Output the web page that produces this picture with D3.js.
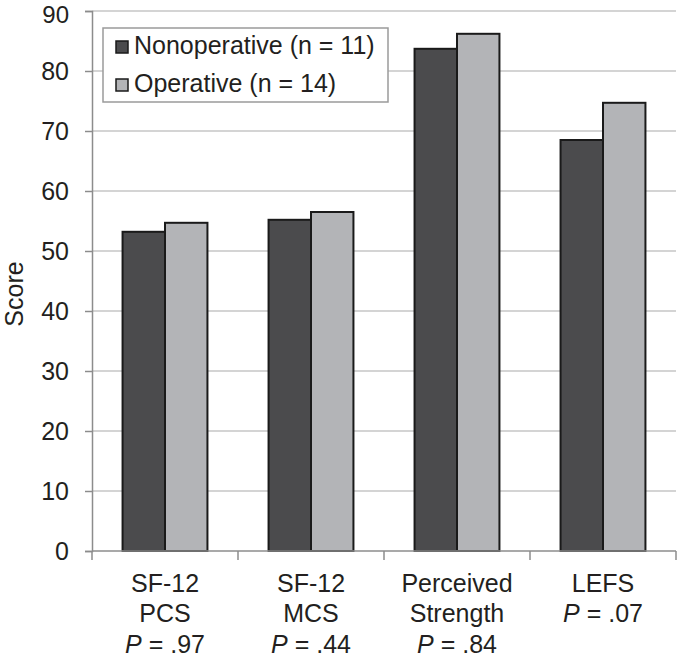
<!DOCTYPE html>
<html><head><meta charset="utf-8">
<script src="https://cdn.jsdelivr.net/npm/d3@7"></script>
<style>body{margin:0;background:#fff}svg{display:block}text{font-family:"Liberation Sans",Arial,sans-serif;fill:#231f20}</style>
</head><body><svg id="c" width="678" height="659"></svg>
<script>
const categories = [["SF-12","PCS"],["SF-12","MCS"],["Perceived","Strength"],["LEFS"]];
const pValues = [".97",".44",".84",".07"];
const seriesNames = ["Nonoperative (n = 11)","Operative (n = 14)"];
const nonoperative = [53.2, 55.2, 83.7, 68.5];
const operative = [54.7, 56.5, 86.2, 74.7];
const yTicks = [0,10,20,30,40,50,60,70,80,90];
const colors = ["#4b4b4d","#b3b4b7"];

const FS = 25;
const svg = d3.select("#c");
const m = {l:92, r:2, t:11, b:108};
const W = 678, H = 659;
const x = d3.scaleBand().domain(d3.range(categories.length)).range([m.l, W-m.r]).paddingInner(0).paddingOuter(0);
const x1 = d3.scaleBand().domain([0,1]).range([0, x.bandwidth()]).paddingInner(0).paddingOuter(0.72);
const y = d3.scaleLinear().domain([0,90]).range([H-m.b, m.t]);

// grid
svg.append("g").selectAll("line").data(yTicks.filter(d=>d>0)).join("line")
  .attr("x1", m.l).attr("x2", W-m.r).attr("y1", d=>y(d)).attr("y2", d=>y(d))
  .attr("stroke","#c6c6c6").attr("stroke-width",1.5);

// y axis
const ya = svg.append("g").attr("transform",`translate(${m.l},0)`)
  .call(d3.axisLeft(y).tickValues(yTicks).tickSize(7).tickPadding(16));
ya.attr("font-size",FS).attr("font-family",null);
ya.select(".domain").attr("stroke","#8c8c8c").attr("stroke-width",1.5);
ya.selectAll(".tick line").attr("stroke","#8c8c8c").attr("stroke-width",1.5);
ya.selectAll(".tick text").attr("font-size",FS).attr("fill","#231f20");
// keep the top label inside the picture
ya.selectAll(".tick text").filter(d => d === d3.max(yTicks)).attr("font-size",24).attr("dy","0.46em");

// bars
const series = [nonoperative, operative];
series.forEach((vals, s) => {
  svg.append("g").selectAll("rect").data(vals).join("rect")
    .attr("x", (d,i)=> x(i) + x1(s))
    .attr("width", x1.bandwidth())
    .attr("y", d=>y(d))
    .attr("height", d=> y(0)-y(d))
    .attr("fill", colors[s]).attr("stroke","#1a1a1a").attr("stroke-width",2);
});

// x axis
const xa = svg.append("g");
xa.append("line").attr("x1",m.l).attr("x2",W-m.r).attr("y1",y(0)).attr("y2",y(0)).attr("stroke","#8c8c8c").attr("stroke-width",1.5);
const bounds = d3.range(categories.length+1).map(i => i<categories.length ? x(i) : x(i-1)+x.bandwidth());
xa.selectAll("line.t").data(bounds).join("line").attr("class","t")
  .attr("x1",d=>d).attr("x2",d=>d).attr("y1",y(0)).attr("y2",y(0)+9).attr("stroke","#8c8c8c").attr("stroke-width",1.5);

categories.forEach((lines, i) => {
  const cx = x(i) + x.bandwidth()/2;
  const t = svg.append("text").attr("text-anchor","middle").attr("font-size",FS);
  lines.forEach((ln, j) => {
    t.append("tspan").attr("x",cx).attr("y", 592 + j*30).text(ln);
  });
  const py = 592 + lines.length*30 + (lines.length>1 ? 1 : 0);
  const p = svg.append("text").attr("text-anchor","middle").attr("font-size",FS).attr("x",cx).attr("y",py);
  p.append("tspan").attr("font-style","italic").text("P");
  p.append("tspan").text(" = " + pValues[i]);
});

// y label
svg.append("text").attr("transform","translate(23,294) rotate(-90)").attr("text-anchor","middle").attr("font-size",FS).text("Score");

// legend
const lg = svg.append("g");
lg.append("rect").attr("x",103).attr("y",28).attr("width",285).attr("height",74).attr("fill","#fff").attr("stroke","#9a9a9a").attr("stroke-width",1.5);
seriesNames.forEach((n, i) => {
  const base = 54 + i*38;
  lg.append("rect").attr("x",116).attr("y",base-13).attr("width",12).attr("height",12).attr("fill",colors[i]).attr("stroke","#1a1a1a").attr("stroke-width",1.5);
  lg.append("text").attr("x",134).attr("y",base).attr("font-size",FS).text(n);
});
</script></body></html>
